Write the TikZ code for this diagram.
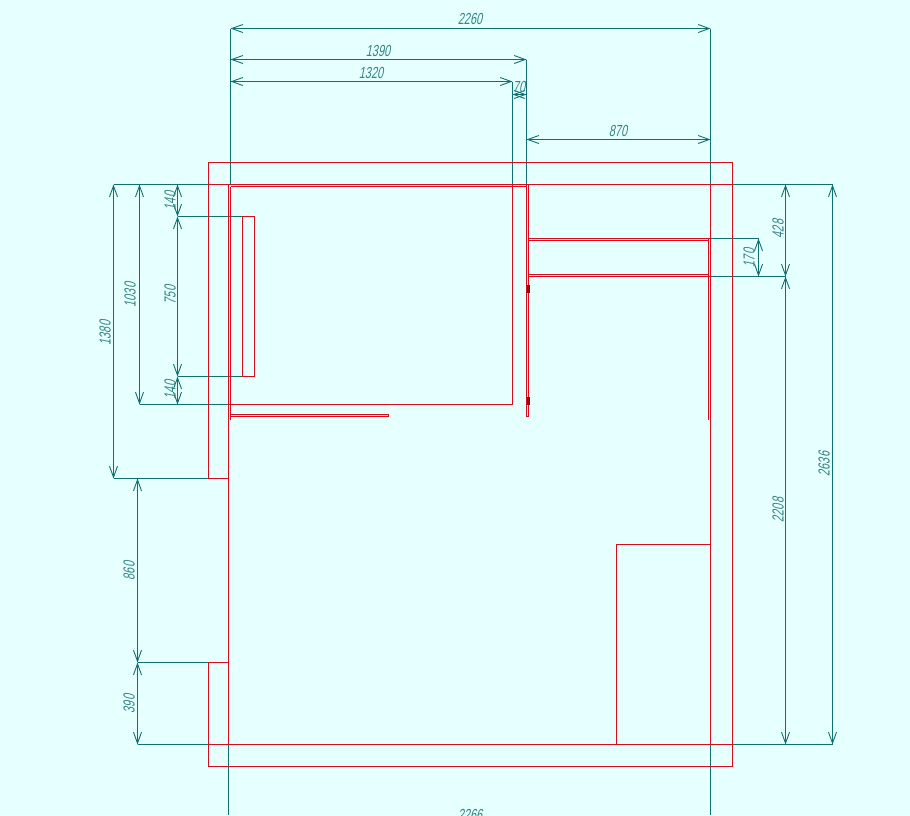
\documentclass[tikz,border=0pt]{standalone}
\usepackage{fontspec}
\setmainfont{Liberation Sans}
\newfontfamily\dimf[FakeSlant=0.3]{Liberation Sans}
\usetikzlibrary{arrows.meta}
\definecolor{bgc}{HTML}{E6FFFF}
\definecolor{wallc}{RGB}{215,10,30}
\definecolor{dimc}{HTML}{107070}
\tikzset{
  wall/.style={draw=wallc,line width=1.2pt},
  ext/.style={draw=dimc,line width=1pt},
  dimline/.style={draw=dimc,line width=1pt,{Straight Barb[length=11pt,width=8pt,line width=.9pt]}-{Straight Barb[length=11pt,width=8pt,line width=.9pt]}},
  labbase/.style={text=dimc!85,font=\fontsize{16}{16}\selectfont\dimf,inner sep=0pt},
  lab/.style={labbase,xscale=.68},
  labv/.style={labbase,rotate=90,xscale=.68},
  hw/.style={draw=wallc!60!black,fill=wallc!70!black,line width=.6pt}
}
\begin{document}
\begin{tikzpicture}[x=1pt,y=-1pt]
\useasboundingbox (0,0) rectangle (910,815);
\clip (0,0) rectangle (910,815);
\fill[bgc] (0,0) rectangle (910,815);

% extension lines
\draw[ext] (230.5,28.5) -- (230.5,184.5);
\draw[ext] (710.5,28.5) -- (710.5,184.5);
\draw[ext] (526.5,59.5) -- (526.5,184.5);
\draw[ext] (512.5,81.5) -- (512.5,186.5);
\draw[ext] (228.5,744.5) -- (228.5,815);
\draw[ext] (710.5,744.5) -- (710.5,815);
\draw[ext] (113.5,184.5) -- (228.5,184.5);
\draw[ext] (113.5,478.5) -- (208.5,478.5);
\draw[ext] (139.5,404.5) -- (230.5,404.5);
\draw[ext] (177.5,216.5) -- (242.5,216.5);
\draw[ext] (177.5,376.5) -- (242.5,376.5);
\draw[ext] (137.5,662.5) -- (208.5,662.5);
\draw[ext] (137.5,744.5) -- (208.5,744.5);
\draw[ext] (732.5,184.5) -- (832.5,184.5);
\draw[ext] (732.5,744.5) -- (832.5,744.5);
\draw[ext] (710.5,238.5) -- (758.5,238.5);
\draw[ext] (710.5,276.5) -- (785.5,276.5);

% named dimension anchors
\coordinate (t0) at (230.5,28.5);  \coordinate (t1) at (710.5,28.5);
\coordinate (a0) at (230.5,59.5);  \coordinate (a1) at (526.5,59.5);
\coordinate (b0) at (230.5,81.5);  \coordinate (b1) at (512.5,81.5);
\coordinate (c0) at (512.5,94.5);  \coordinate (c1) at (526.5,94.5);
\coordinate (d0) at (526.5,139.5); \coordinate (d1) at (710.5,139.5);
\coordinate (e0) at (113.5,184.5); \coordinate (e1) at (113.5,478.5);
\coordinate (f0) at (139.5,184.5); \coordinate (f1) at (139.5,404.5);
\coordinate (g0) at (177.5,184.5); \coordinate (g1) at (177.5,216.5);
\coordinate (g2) at (177.5,376.5); \coordinate (g3) at (177.5,404.5);
\coordinate (h0) at (137.5,478.5); \coordinate (h1) at (137.5,662.5);
\coordinate (h2) at (137.5,744.5);
\coordinate (i0) at (785.5,184.5); \coordinate (i1) at (785.5,276.5);
\coordinate (i2) at (785.5,744.5);
\coordinate (j0) at (832.5,184.5); \coordinate (j1) at (832.5,744.5);
\coordinate (k0) at (758.5,238.5); \coordinate (k1) at (758.5,276.5);

\draw[dimline] (t0) -- (t1);
\draw[dimline] (a0) -- (a1);
\draw[dimline] (b0) -- (b1);
\draw[dimline] (c0) -- (c1);
\draw[dimline] (d0) -- (d1);
\draw[dimline] (e0) -- (e1);
\draw[dimline] (f0) -- (f1);
\draw[dimline] (g0) -- (g1);
\draw[dimline] (g1) -- (g2);
\draw[dimline] (g2) -- (g3);
\draw[dimline] (h0) -- (h1);
\draw[dimline] (h1) -- (h2);
\draw[dimline] (i0) -- (i1);
\draw[dimline] (i1) -- (i2);
\draw[dimline] (j0) -- (j1);
\draw[dimline] (k0) -- (k1);

% walls
\draw[wall] (228.5,478.5) -- (208.5,478.5) -- (208.5,162.5) -- (732.5,162.5) -- (732.5,766.5) -- (208.5,766.5) -- (208.5,662.5) -- (228.5,662.5);
\draw[wall] (228.5,184.5) -- (228.5,744.5);
\draw[wall] (208.5,184.5) -- (732.5,184.5);
\draw[wall] (208.5,744.5) -- (732.5,744.5);
\draw[wall] (710.5,184.5) -- (710.5,744.5);
\draw[wall] (230.5,186.5) -- (526.5,186.5);
\draw[wall] (230.5,186.5) -- (230.5,420);
\draw[wall] (512.5,186.5) -- (512.5,404.5) -- (230.5,404.5);
\draw[wall] (230.5,414.5) rectangle (388.5,416.5);
\draw[wall] (242.5,216.5) rectangle (254.5,376.5);
\draw[wall] (526.5,184.5) -- (526.5,416.5) -- (528.5,416.5) -- (528.5,184.5);
\draw[wall] (528.5,238.5) -- (710.5,238.5);
\draw[wall] (528.5,240.5) -- (708.5,240.5);
\draw[wall] (528.5,274.5) -- (708.5,274.5);
\draw[wall] (528.5,276.5) -- (710.5,276.5);
\draw[wall] (708.5,238.5) -- (708.5,420);
\draw[wall] (616.5,744.5) -- (616.5,544.5) -- (710.5,544.5);
\draw[hw] (527.5,285.5) rectangle (529.5,292.5);
\draw[hw] (527.5,397.5) rectangle (529.5,404.5);

% labels
\node[lab] (l2260) at (470,19) {2260};
\node[lab] (l1390) at (378,50.5) {1390};
\node[lab] (l1320) at (371,73) {1320};
\node[lab] (l70) at (519,87) {70};
\node[lab] (l870) at (618,131) {870};
\node[lab] (l2266) at (470,815) {2266};
\node[labv] (l1380) at (105,333) {1380};
\node[labv] (l1030) at (130,295) {1030};
\node[labv] (l750) at (170,295) {750};
\node[labv] (l140a) at (170,201) {140};
\node[labv] (l140b) at (170,390) {140};
\node[labv] (l860) at (129,571) {860};
\node[labv] (l390) at (129,704) {390};
\node[labv] (l428) at (778,229) {428};
\node[labv] (l2208) at (778,510) {2208};
\node[labv] (l2636) at (824,464) {2636};
\node[labv] (l170) at (749,258) {170};
\end{tikzpicture}
\end{document}
